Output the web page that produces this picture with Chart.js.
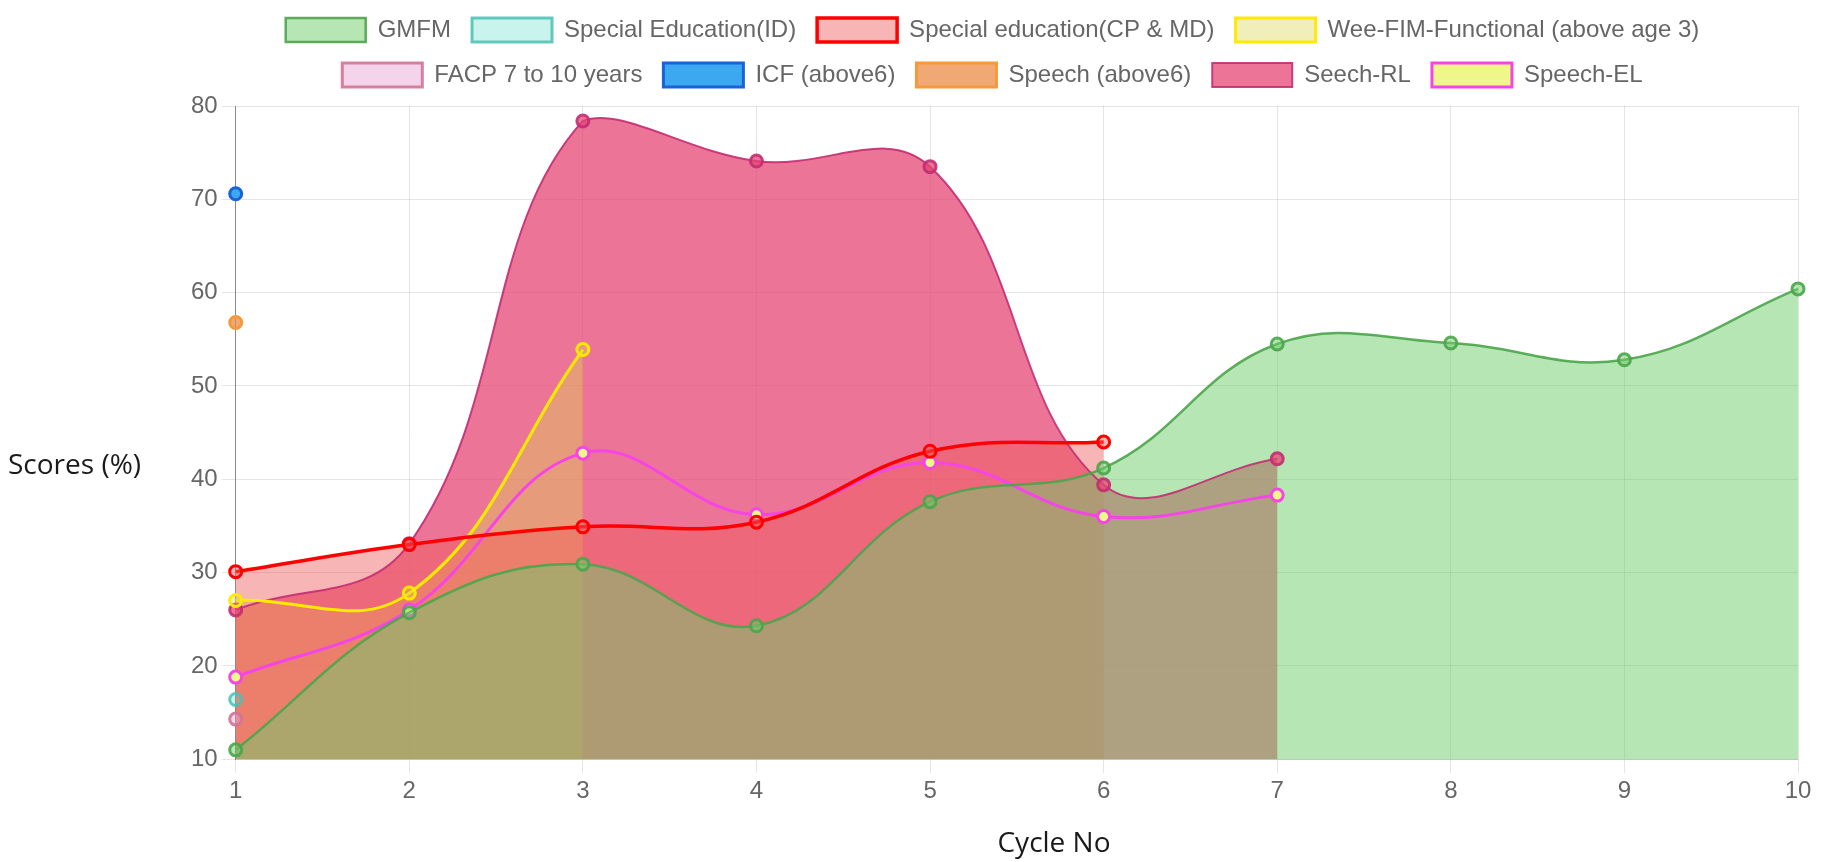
<!DOCTYPE html>
<html>
<head>
<meta charset="utf-8">
<script src="https://cdn.jsdelivr.net/npm/chart.js@4.4.1/dist/chart.umd.min.js"></script>
<style>
  html, body { margin: 0; padding: 0; background: #fff; overflow: hidden; }
  #wrap { position: relative; width: 1826px; height: 862px; overflow: hidden; }
  #myChart { position: absolute; left: 0; top: -3px; }
  .axis-title { position: absolute; font-family: "Open Sans", "Noto Sans", sans-serif; font-size: 28px; color: #1a1a1a; white-space: nowrap; }
  #ytitle { left: 8px; top: 444px; }
  #xtitle { left: 1054px; top: 822px; transform: translateX(-50%); }
</style>
</head>
<body>
<div id="wrap">
  <canvas id="myChart" width="1826" height="862"></canvas>
  <div class="axis-title" id="ytitle">Scores (%)</div>
  <div class="axis-title" id="xtitle">Cycle No</div>
</div>
<script>
var cycles = ['1', '2', '3', '4', '5', '6', '7', '8', '9', '10'];
var gmfm = [11, 25.7, 30.9, 24.3, 37.6, 41.2, 54.5, 54.6, 52.8, 60.4];
var specialEdId = [16.4];
var specialEdCpMd = [30.1, 33, 34.9, 35.4, 43, 44];
var weeFim = [27, 27.8, 53.9];
var facp = [14.3];
var icf = [70.6];
var speechAbove6 = [56.8];
var seechRl = [26, 33.1, 78.4, 74.1, 73.5, 39.4, 42.2];
var speechEl = [18.8, 26, 42.8, 36.2, 41.8, 36, 38.3];

Chart.defaults.font.family = '"Liberation Sans", Arial, sans-serif';
Chart.defaults.font.size = 24;
Chart.defaults.color = '#666';

function series(label, data, border, bg, width, fill, pointBg) {
  return {
    label: label,
    data: data,
    borderColor: border,
    backgroundColor: bg,
    borderWidth: width,
    fill: fill,
    tension: 0.4,
    pointRadius: 6,
    pointBorderWidth: 3,
    pointBackgroundColor: pointBg || bg,
    clip: false
  };
}

// a bit more room between the legend and the plot
var legendGap = {
  id: 'legendGap',
  beforeLayout: function(chart) {
    var legend = chart.legend;
    if (legend && !legend._gapPatched) {
      var fit = legend.fit;
      legend.fit = function() {
        fit.call(this);
        this.height += 9;
      };
      legend._gapPatched = true;
    }
  }
};

var ctx = document.getElementById('myChart');
var myChart = new Chart(ctx, {
  type: 'line',
  data: {
    labels: cycles,
    datasets: [
      series('GMFM', gmfm, 'rgba(75,165,75,0.9)', 'rgba(111,205,107,0.5)', 2.5, 'start'),
      series('Special Education(ID)', specialEdId, 'rgba(75,192,180,0.85)', 'rgba(75,215,195,0.3)', 3, false),
      series('Special education(CP & MD)', specialEdCpMd, '#ff0000', 'rgba(240,90,90,0.45)', 3.5, 'start'),
      series('Wee-FIM-Functional (above age 3)', weeFim, '#ffea00', 'rgba(220,215,80,0.4)', 3, 'start'),
      series('FACP 7 to 10 years', facp, 'rgba(210,115,150,0.9)', 'rgba(230,160,210,0.45)', 3, false),
      series('ICF (above6)', icf, '#1a62d8', 'rgba(60,168,240,1)', 3, false),
      series('Speech (above6)', speechAbove6, '#f5993a', 'rgba(235,140,70,0.75)', 3, false),
      series('Seech-RL', seechRl, 'rgba(195,45,115,0.9)', 'rgba(230,70,115,0.75)', 2, 'start'),
      series('Speech-EL', speechEl, '#f545e6', 'rgba(235,245,110,0.8)', 3, false, 'rgba(240,248,140,1)')
    ]
  },
  options: {
    responsive: false,
    animation: false,
    layout: { padding: { left: 187, right: 28, top: 0, bottom: 49 } },
    plugins: {
      filler: { drawTime: 'beforeDatasetsDraw' },
      legend: {
        labels: { boxWidth: 80, boxHeight: 24, padding: 21 }
      },
      tooltip: { enabled: false }
    },
    scales: {
      x: {
        grid: { color: 'rgba(0,0,0,0.1)', tickLength: 14 },
        border: { color: 'rgba(0,0,0,0.15)' },
        ticks: { padding: 4 }
      },
      y: {
        min: 10,
        max: 80,
        ticks: { stepSize: 10, padding: 4 },
        grid: { color: 'rgba(0,0,0,0.1)', tickLength: 14 },
        border: { color: 'rgba(0,0,0,0.4)' }
      }
    }
  },
  plugins: [legendGap]
});
</script>
</body>
</html>
